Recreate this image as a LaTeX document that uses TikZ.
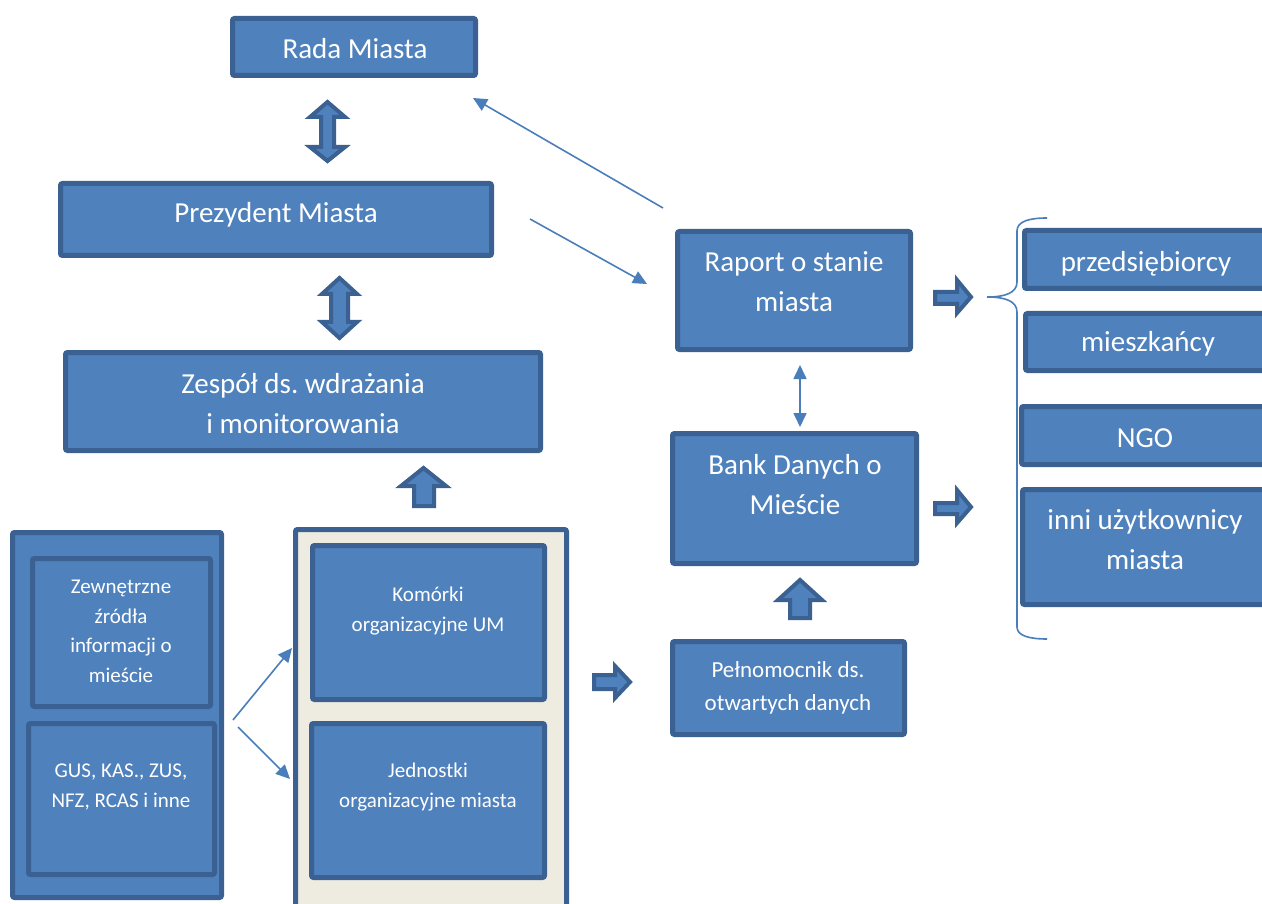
\documentclass[tikz,border=0pt]{standalone}
\usepackage{fontspec}
\setmainfont{Carlito}
\usetikzlibrary{arrows.meta}
\definecolor{blu}{HTML}{4F81BD}
\definecolor{bdr}{HTML}{3A6191}
\definecolor{lin}{HTML}{4A7EBB}
\definecolor{beige}{HTML}{EEECE1}
\frenchspacing
\tikzset{
  box/.style={draw=bdr, fill=blu, line width=5pt, rounded corners=2pt, inner sep=0pt},
  lbl/.style={text=white, font=\fontsize{29}{40}\selectfont, align=center, inner sep=0pt, anchor=base},
  slbl/.style={text=white, font=\fontsize{21}{29.5}\selectfont, align=center, inner sep=0pt, anchor=base},
  mlbl/.style={text=white, font=\fontsize{23}{33}\selectfont, align=center, inner sep=0pt, anchor=base},
  conn/.style={draw=lin, line width=1.6pt, -{Triangle[length=14pt,width=13pt]}},
  dconn/.style={draw=lin, line width=1.6pt, {Triangle[length=14pt,width=13pt]}-{Triangle[length=14pt,width=13pt]}},
  blk/.style={fill=blu, draw=bdr, line width=4pt, line join=miter},
  brace/.style={draw=lin, line width=1.6pt},
}
\begin{document}
\begin{tikzpicture}[x=1pt,y=-1pt]
\useasboundingbox (0,0) rectangle (1262,904);
\clip (0,0) rectangle (1262,904);
\fill[white] (0,0) rectangle (1262,904);

% boxes
\node[box, minimum width=243pt, minimum height=57pt] (rada) at (354,47) {};
\node[box, minimum width=431pt, minimum height=72pt] (prez) at (276,219.5) {};
\node[box, minimum width=475pt, minimum height=98pt] (zesp) at (303,401.5) {};
\node[box, minimum width=233pt, minimum height=118pt] (raport) at (794,290.5) {};
\node[box, minimum width=244pt, minimum height=130pt] (bank) at (794.5,498.5) {};
\node[box, minimum width=232pt, minimum height=93pt] (peln) at (788.5,688) {};
\node[box, minimum width=273pt, minimum height=58pt] (przed) at (1161,259.5) {};
\node[box, minimum width=272pt, minimum height=57pt] (miesz) at (1161.5,342) {};
\node[box, minimum width=276pt, minimum height=58pt] (ngo) at (1159.5,435.5) {};
\node[box, minimum width=275pt, minimum height=115pt] (inni) at (1160,547) {};
\node[box, minimum width=209pt, minimum height=365pt] (leftout) at (117,715) {};
\node[box, minimum width=178pt, minimum height=148pt] (zew) at (121.5,632.5) {};
\node[box, minimum width=186pt, minimum height=151pt] (gus) at (121.5,799) {};
\node[box, fill=beige, minimum width=271pt, minimum height=398pt] (midout) at (431,728.5) {};
\node[box, minimum width=232pt, minimum height=154pt] (kom) at (428.5,622.5) {};
\node[box, minimum width=233pt, minimum height=154pt] (jed) at (428,800.5) {};

% labels (anchor = baseline of the last line)
\node[lbl] (radat) at (355,59) {Rada Miasta};
\node[lbl] (prezt) at (276,223) {Prezydent Miasta};
\node[lbl] (zespt) at (303,433) {Zespół ds. wdrażania\\i monitorowania};
\node[lbl] (raportt) at (794,312) {Raport o stanie\\miasta};
\node[lbl] (bankt) at (795,514) {Bank Danych o\\Mieście};
\node[mlbl] (pelnt) at (788,710) {Pełnomocnik ds.\\otwartych danych};
\node[lbl] (przedt) at (1146,272) {przedsiębiorcy};
\node[lbl] (mieszt) at (1148,352) {mieszkańcy};
\node[lbl] (ngot) at (1145,447) {NGO};
\node[lbl] (innit) at (1145,569) {inni użytkownicy\\miasta};
\node[slbl] (zewt) at (121,682) {Zewnętrzne\\źródła\\informacji o\\mieście};
\node[slbl] (gust) at (121,807) {GUS, KAS., ZUS,\\NFZ, RCAS i inne};
\node[slbl] (komt) at (428,631) {Komórki\\organizacyjne UM};
\node[slbl] (jedt) at (428,807) {Jednostki\\organizacyjne miasta};

% thin connectors
\coordinate (a1s) at (663,208); \coordinate (a1e) at (473,98);
\draw[conn] (a1s) -- (a1e);
\coordinate (a2s) at (530,219); \coordinate (a2e) at (647,284);
\draw[conn] (a2s) -- (a2e);
\coordinate (a3s) at (233,720); \coordinate (a3e) at (292,648);
\draw[conn] (a3s) -- (a3e);
\coordinate (a4s) at (238,727); \coordinate (a4e) at (290,779);
\draw[conn] (a4s) -- (a4e);
\coordinate (a5s) at (800,365); \coordinate (a5e) at (800,427);
\draw[dconn] (a5s) -- (a5e);

% brace
\coordinate (bp) at (987,297);
\coordinate (bt) at (1047,218);
\coordinate (bb) at (1047,639);
\draw[brace] (bp) .. controls (1005,297) and (1017,293) .. (1017,282) -- (1017,231) .. controls (1017,221) and (1030,218) .. (bt);
\draw[brace] (bp) .. controls (1005,297) and (1017,301) .. (1017,312) -- (1017,627) .. controls (1017,636) and (1030,639) .. (bb);

% block arrows
% double arrow Rada-Prezydent
\draw[blk] (327.5,102) -- (345,117) -- (334,117) -- (334,147) -- (345,147) -- (327.5,161) -- (310,147) -- (321,147) -- (321,117) -- (310,117) -- cycle;
% double arrow Prezydent-Zespol
\draw[blk] (339.5,278) -- (357,294) -- (348,294) -- (348,322) -- (357,322) -- (339.5,338) -- (322,322) -- (331,322) -- (331,294) -- (322,294) -- cycle;
% up arrow to Zespol
\draw[blk] (423.5,468) -- (446,486) -- (434,486) -- (434,506) -- (414,506) -- (414,486) -- (401,486) -- cycle;
% up arrow to Bank
\draw[blk] (800,580) -- (822,600) -- (810,600) -- (810,618) -- (790,618) -- (790,600) -- (778,600) -- cycle;
% right arrow to Pelnomocnik
\draw[blk] (630,682) -- (615,666) -- (615,675) -- (594,675) -- (594,689) -- (615,689) -- (615,698) -- cycle;
% right arrow from Raport
\draw[blk] (971,297) -- (957,280) -- (957,292) -- (935,292) -- (935,304) -- (957,304) -- (957,313) -- cycle;
% right arrow from Bank
\draw[blk] (971,507) -- (957,490) -- (957,503) -- (935,503) -- (935,514) -- (957,514) -- (957,523) -- cycle;
\end{tikzpicture}
\end{document}
